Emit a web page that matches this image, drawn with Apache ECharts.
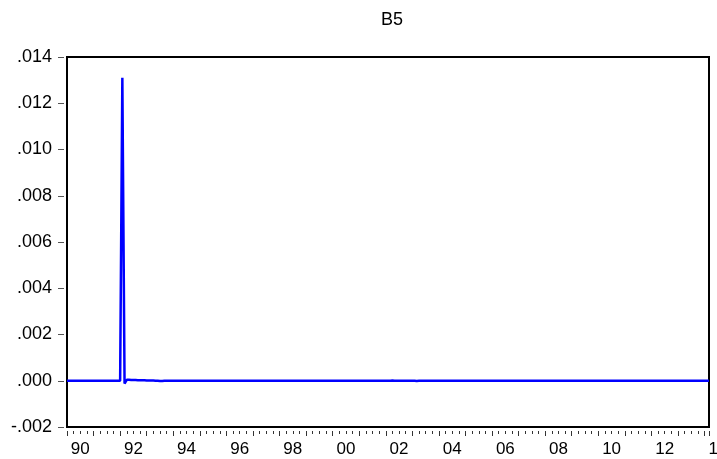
<!DOCTYPE html>
<html>
<head>
<meta charset="utf-8">
<title>B5</title>
<script src="https://cdn.jsdelivr.net/npm/echarts@6/dist/echarts.min.js"></script>
<style>
  html, body { margin: 0; padding: 0; background: #fff; }
  #chart { width: 717px; height: 459px; }
</style>
</head>
<body>
<div id="chart"></div>
<script>
// monthly observations, first one is 1990M01
var startYear = 1990;

var b5_1990s = [
  0, 0, 0, 0, 0, 0, 0, 0, 0, 0, 0, 0,                                   // 1990
  0, 0, 0, 0, 0, 0, 0, 0, 0, 0, 0, 0,                                   // 1991
  0, 0.0131, -0.00012, 0.00004, 0.00004, 0.00003, 0.00003, 0.00003, 0.00002, 0.00002, 0.00002, 0.00002, // 1992
  0.00001, 0.00001, 0.00001, 0.00001, 0, 0, -0.00001, -0.00001, 0, 0, 0, 0, // 1993
  0, 0, 0, 0, 0, 0, 0, 0, 0, 0, 0, 0,                                   // 1994
  0, 0, 0, 0, 0, 0, 0, 0, 0, 0, 0, 0,                                   // 1995
  0, 0, 0, 0, 0, 0, 0, 0, 0, 0, 0, 0,                                   // 1996
  0, 0, 0, 0, 0, 0, 0, 0, 0, 0, 0, 0,                                   // 1997
  0, 0, 0, 0, 0, 0, 0, 0, 0, 0, 0, 0,                                   // 1998
  0, 0, 0, 0, 0, 0, 0, 0, 0, 0, 0, 0                                    // 1999
];
var b5_2000s = [
  0, 0, 0, 0, 0, 0, 0, 0, 0, 0, 0, 0,                                   // 2000
  0, 0, 0, 0, 0, -0.000005, -0.000005, 0, 0, 0, 0, 0,                   // 2001
  0, 0, 0.000005, 0.00001, 0.000005, 0, 0, 0, 0, 0, 0, 0,               // 2002
  0, -0.000005, -0.00001, -0.000005, 0, 0, 0, 0, 0, 0, 0, 0,            // 2003
  0, 0, 0, 0, 0, 0, 0, 0, 0, 0, 0, 0,                                   // 2004
  0, 0, 0, 0, 0, 0, 0, 0, 0, 0, 0, 0,                                   // 2005
  0, 0, 0, 0, 0, 0, 0, 0, 0, 0, 0, 0,                                   // 2006
  0, 0, 0, 0, 0, 0, 0, 0, 0, 0, 0, 0,                                   // 2007
  0, 0, 0, 0, 0, 0, 0, 0, 0, 0, 0, 0,                                   // 2008
  0, 0, 0, 0, 0, 0, 0, 0, 0, 0, 0, 0                                    // 2009
];
var b5_2010s = [
  0, 0, 0, 0, 0, 0, 0, 0, 0, 0, 0, 0,                                   // 2010
  0, 0, 0, 0, 0, 0, 0, 0, 0, 0, 0, 0,                                   // 2011
  0, 0, 0, 0, 0, 0, 0, 0, 0, 0, 0, 0,                                   // 2012
  0, 0, 0, 0, 0, 0, 0, 0, 0, 0, 0, 0,                                   // 2013
  0, 0, 0                                                               // 2014 M01-M03
];

// x axis labels sit in the middle of every second year
var labelYears = [1990, 1992, 1994, 1996, 1998, 2000, 2002, 2004, 2006, 2008, 2010, 2012, 2014];
var labelText  = ['90', '92', '94', '96', '98', '00', '02', '04', '06', '08', '10', '12', '14'];

var yTicks = { min: -0.002, max: 0.014, step: 0.002 };

var allValues = b5_1990s.concat(b5_2000s, b5_2010s);
var seriesData = allValues.map(function (v, i) {
  return [startYear + i / 12, v];
});
var xMax = startYear + (allValues.length - 1) / 12;

// label axis lives in a wider grid with the same px per year
var plotLeft = 67, plotRight = 709;
var pxPerYear = (plotRight - plotLeft) / (xMax - startYear);
var labelMax = 2016;

var myChart = echarts.init(document.getElementById('chart'), null, { renderer: 'canvas' });

var option = {
  animation: false,
  backgroundColor: '#fff',
  title: {
    text: 'B5',
    left: 376,
    top: 6,
    textStyle: { fontFamily: 'Liberation Sans', fontSize: 18, fontWeight: 'normal', color: '#000' }
  },
  grid: [
    {
      left: plotLeft, right: 717 - plotRight, top: 57, bottom: 32,
      outerBoundsMode: 'none',
      show: true, borderColor: '#000', borderWidth: 2, backgroundColor: 'transparent'
    },
    {
      left: plotLeft, width: pxPerYear * (labelMax - startYear), top: 57, bottom: 32,
      outerBoundsMode: 'none',
      show: false
    }
  ],
  xAxis: [
    {
      type: 'value', gridIndex: 0,
      min: startYear, max: xMax, interval: 1,
      position: 'bottom',
      offset: 4,
      axisLine: { show: false, onZero: false },
      axisTick: { show: true, length: 5, lineStyle: { color: '#333', width: 1 } },
      minorTick: { show: true, splitNumber: 4, length: 3, lineStyle: { color: '#333', width: 1 } },
      axisLabel: { show: false },
      splitLine: { show: false }
    },
    {
      type: 'value', gridIndex: 1,
      min: startYear, max: labelMax,
      position: 'bottom',
      offset: 4,
      axisLine: { show: false, onZero: false },
      axisTick: { show: false },
      splitLine: { show: false },
      axisLabel: {
        show: true,
        customValues: labelYears.map(function (y) { return y + 0.5; }),
        formatter: function (v) {
          var idx = labelYears.indexOf(Math.floor(v));
          return idx >= 0 ? labelText[idx] : '';
        },
        margin: 10,
        fontFamily: 'Liberation Sans', fontSize: 17, color: '#000'
      }
    }
  ],
  yAxis: [
    {
      type: 'value', gridIndex: 0,
      min: yTicks.min, max: yTicks.max, interval: yTicks.step,
      position: 'left',
      offset: 3,
      axisLine: { show: false, onZero: false },
      axisTick: { show: true, length: 6, lineStyle: { color: '#555', width: 1 } },
      splitLine: { show: false },
      axisLabel: {
        margin: 12,
        fontFamily: 'Liberation Sans', fontSize: 18, color: '#000',
        formatter: function (v) { return v.toFixed(3).replace('0.', '.'); }
      }
    },
    {
      type: 'value', gridIndex: 1, show: false, min: 0, max: 1
    }
  ],
  series: [
    {
      name: 'B5',
      type: 'line',
      xAxisIndex: 0, yAxisIndex: 0,
      data: seriesData,
      showSymbol: false,
      symbol: 'none',
      lineStyle: { color: '#0000ff', width: 2.5 },
      itemStyle: { color: '#0000ff' },
      z: 3
    }
  ]
};
myChart.setOption(option);
</script>
</body>
</html>
